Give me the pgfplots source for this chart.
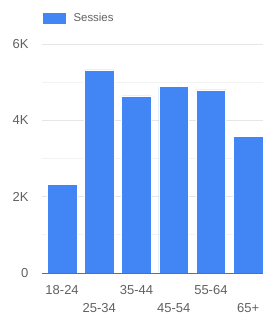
\documentclass[border=0pt]{standalone}
\usepackage{fontspec}
\setmainfont{Liberation Sans}
\usepackage{pgfplots}
\pgfplotsset{compat=1.18}
\definecolor{gblue}{HTML}{4285F4}
\definecolor{gtext}{HTML}{616161}
\definecolor{gmaj}{HTML}{E6E6E6}
\definecolor{gmin}{HTML}{F3F3F3}
\definecolor{gaxis}{HTML}{6E6E6E}
\begin{document}
\begin{tikzpicture}
\path[use as bounding box] (0pt,0pt) rectangle (263pt,318pt);
\begin{axis}[
  at={(42pt,45pt)}, anchor=south west,
  scale only axis,
  width=221pt, height=229pt,
  xmin=-0.54, xmax=5.40,
  ymin=0, ymax=6000,
  ybar, bar width=0.8,
  axis line style={draw=none},
  xtick=data,
  xticklabels={18-24,25-34,35-44,45-54,55-64,65+},
  x tick label style={font=\fontsize{13}{13}\selectfont, text=gtext, yshift={-9pt-mod(\ticknum,2)*18pt}},
  ytick={0,2000,4000,6000},
  yticklabels={0,2K,4K,6K},
  y tick label style={font=\fontsize{13}{13}\selectfont, text=gtext, xshift=-10pt},
  scaled y ticks=false,
  major tick length=0pt, minor tick length=0pt,
  minor ytick={1000,3000,5000},
  ymajorgrids, yminorgrids,
  major grid style={gmaj, line width=0.8pt},
  minor grid style={gmin, line width=0.8pt},
  clip=false,
  legend style={draw=none, fill=none, inner sep=0pt, outer sep=0pt,
    at={(0,1)}, anchor=west, yshift=26pt,
    nodes={inner sep=0pt}, font=\fontsize{11.4}{12}\selectfont, text=gtext,
    /tikz/every even column/.append style={column sep=7pt},
    /tikz/every odd column/.append style={column sep=7pt}},
  legend cell align=left,
  legend image code/.code={\path[fill=gblue] (0pt,-6pt) rectangle (24pt,6pt);},
]
\addplot[fill=gblue, draw=white, line width=0.6pt] coordinates {
  (0,2330) (1,5320) (2,4640) (3,4890) (4,4800) (5,3570)
};
\addlegendentry{Sessies}
\draw[gaxis, line width=0.9pt] (axis cs:-0.54,0) -- (axis cs:5.40,0);
\end{axis}
\end{tikzpicture}
\end{document}
